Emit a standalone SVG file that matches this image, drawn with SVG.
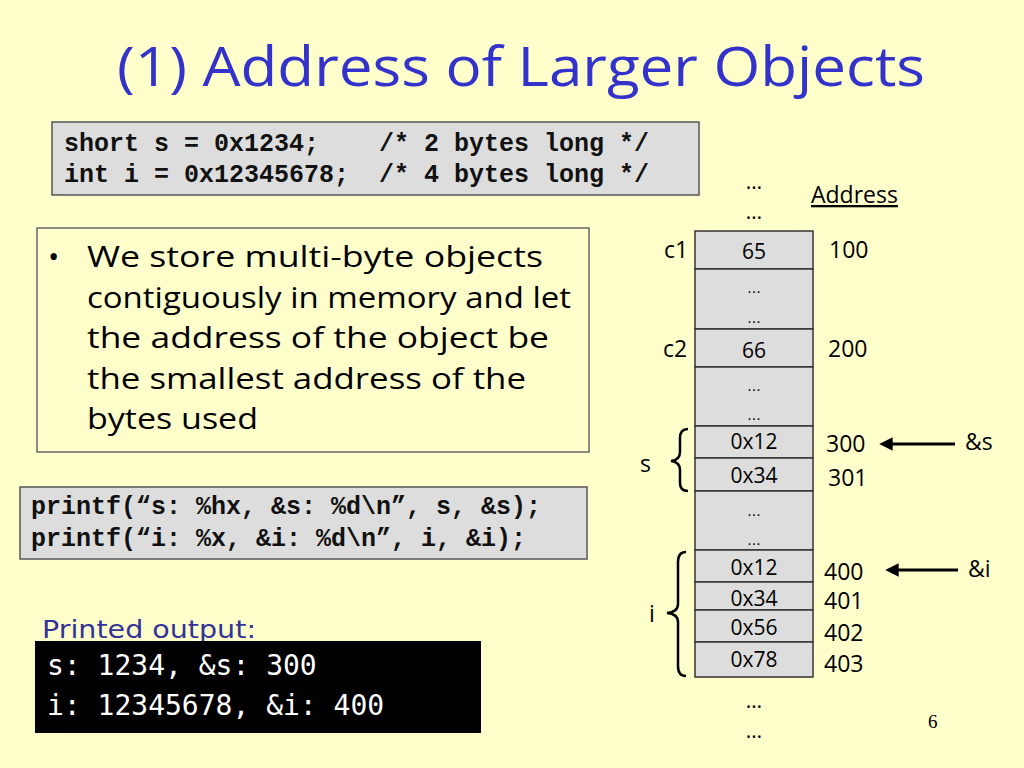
<svg xmlns="http://www.w3.org/2000/svg" width="1024" height="768" viewBox="0 0 1024 768">
<defs>
<style>
.comic{font-family:"Open Sans","DejaVu Sans",sans-serif;fill:#000}
.mono{font-family:"Liberation Mono","Courier New",monospace;font-weight:bold;fill:#111}
.cell{fill:#DDDDDD;stroke:#333;stroke-width:1.5}
.ctext{font-family:"Open Sans","DejaVu Sans",sans-serif;font-size:21px;text-anchor:middle;fill:#000}
.dots{font-family:"DejaVu Sans",sans-serif;font-size:14px;text-anchor:middle;fill:#000}
.addr{font-family:"Open Sans","DejaVu Sans",sans-serif;font-size:23px;fill:#000}
.brace{fill:none;stroke:#000;stroke-width:2.5}
.arrow{stroke:#000;stroke-width:3;fill:none}
</style>
<marker id="ah" viewBox="0 0 10 10" refX="2" refY="5" markerWidth="5" markerHeight="4.5" orient="auto-start-reverse">
<path d="M0,0 L10,5 L0,10 z" fill="#000"/>
</marker>
</defs>
<rect width="1024" height="768" fill="#FFFFCC"/>

<g id="title">
<text x="117" y="86" font-family="Open Sans, DejaVu Sans, sans-serif" font-size="54" fill="#3333CC" textLength="808" lengthAdjust="spacingAndGlyphs">(1) Address of Larger Objects</text>
</g>

<g id="decl-code">
<rect x="52" y="122" width="647" height="73" fill="#DDDDDD" stroke="#555" stroke-width="1.5"/>
<text class="mono" x="64" y="151" font-size="25" xml:space="preserve">short s = 0x1234;    /* 2 bytes long */</text>
<text class="mono" x="64" y="182" font-size="25" xml:space="preserve">int i = 0x12345678;  /* 4 bytes long */</text>
</g>

<g id="bullet">
<rect x="37" y="228" width="552" height="224" fill="none" stroke="#666" stroke-width="1.5"/>
<text class="comic" x="48" y="267" font-size="30">•</text>
<text class="comic" x="87" y="267" font-size="30" textLength="456" lengthAdjust="spacingAndGlyphs">We store multi-byte objects</text>
<text class="comic" x="87" y="308" font-size="30" textLength="484" lengthAdjust="spacingAndGlyphs">contiguously in memory and let</text>
<text class="comic" x="87" y="348" font-size="30" textLength="462" lengthAdjust="spacingAndGlyphs">the address of the object be</text>
<text class="comic" x="87" y="389" font-size="30" textLength="439" lengthAdjust="spacingAndGlyphs">the smallest address of the</text>
<text class="comic" x="87" y="429" font-size="30" textLength="171" lengthAdjust="spacingAndGlyphs">bytes used</text>
</g>

<g id="printf-code">
<rect x="20" y="487" width="567" height="72" fill="#DDDDDD" stroke="#555" stroke-width="1.5"/>
<text class="mono" x="31" y="514" font-size="25">printf(“s: %hx, &amp;s: %d\n”, s, &amp;s);</text>
<text class="mono" x="31" y="546" font-size="25">printf(“i: %x, &amp;i: %d\n”, i, &amp;i);</text>
</g>

<g id="output">
<text x="42" y="638" font-family="DejaVu Sans, sans-serif" font-size="24" fill="#333399" textLength="214" lengthAdjust="spacingAndGlyphs">Printed output:</text>
<rect x="35" y="641" width="446" height="92" fill="#000"/>
<text x="47" y="675" font-family="DejaVu Sans Mono, monospace" font-size="28" fill="#FFF">s: 1234, &amp;s: 300</text>
<text x="47" y="715" font-family="DejaVu Sans Mono, monospace" font-size="28" fill="#FFF">i: 12345678, &amp;i: 400</text>
</g>

<g id="memory">
<text class="ctext" x="754" y="189">…</text>
<text class="ctext" x="754" y="219">…</text>
<text class="addr" x="811" y="203" text-decoration="underline">Address</text>

<rect class="cell" x="695" y="231" width="118" height="38"/>
<text class="ctext" x="754" y="259">65</text>
<rect class="cell" x="695" y="269" width="118" height="60"/>
<text class="dots" x="754" y="293">...</text>
<text class="dots" x="754" y="323">...</text>
<rect class="cell" x="695" y="329" width="118" height="38"/>
<text class="ctext" x="754" y="358">66</text>
<rect class="cell" x="695" y="367" width="118" height="59"/>
<text class="dots" x="754" y="391">...</text>
<text class="dots" x="754" y="420">...</text>
<rect class="cell" x="695" y="426" width="118" height="32"/>
<text class="ctext" x="754" y="449">0x12</text>
<rect class="cell" x="695" y="458" width="118" height="33"/>
<text class="ctext" x="754" y="483">0x34</text>
<rect class="cell" x="695" y="491" width="118" height="59"/>
<text class="dots" x="754" y="516">...</text>
<text class="dots" x="754" y="545">...</text>
<rect class="cell" x="695" y="550" width="118" height="32"/>
<text class="ctext" x="754" y="575">0x12</text>
<rect class="cell" x="695" y="582" width="118" height="28"/>
<text class="ctext" x="754" y="606">0x34</text>
<rect class="cell" x="695" y="610" width="118" height="32"/>
<text class="ctext" x="754" y="635">0x56</text>
<rect class="cell" x="695" y="642" width="118" height="35"/>
<text class="ctext" x="754" y="667">0x78</text>

<text class="ctext" x="754" y="708">…</text>
<text class="ctext" x="754" y="738">…</text>
</g>

<g id="labels">
<text class="addr" x="664" y="258">c1</text>
<text class="addr" x="663" y="357">c2</text>
<text class="addr" x="640" y="472">s</text>
<text class="addr" x="649" y="622">i</text>
<text class="addr" x="829" y="258">100</text>
<text class="addr" x="828" y="357">200</text>
<text class="addr" x="826" y="452">300</text>
<text class="addr" x="828" y="486">301</text>
<text class="addr" x="824" y="580">400</text>
<text class="addr" x="824" y="609">401</text>
<text class="addr" x="824" y="641">402</text>
<text class="addr" x="824" y="672">403</text>
<text class="addr" x="965" y="450">&amp;s</text>
<text class="addr" x="968" y="577">&amp;i</text>
<text x="928" y="728" font-family="Liberation Serif, serif" font-size="19" fill="#000">6</text>
</g>

<g id="braces">
<path class="brace" d="M688,429 Q680,429 680,438 L680,452 Q680,460 671,461 Q680,462 680,470 L680,483 Q680,491 688,491"/>
<path class="brace" d="M686,552 Q678,552 678,562 L678,604 Q678,612 667,613 Q678,614 678,622 L678,666 Q678,676 686,676"/>
</g>

<g id="connectors">
<line class="arrow" x1="955" y1="444" x2="890" y2="444" marker-end="url(#ah)"/>
<line class="arrow" x1="958" y1="570" x2="896" y2="570" marker-end="url(#ah)"/>
</g>
</svg>
